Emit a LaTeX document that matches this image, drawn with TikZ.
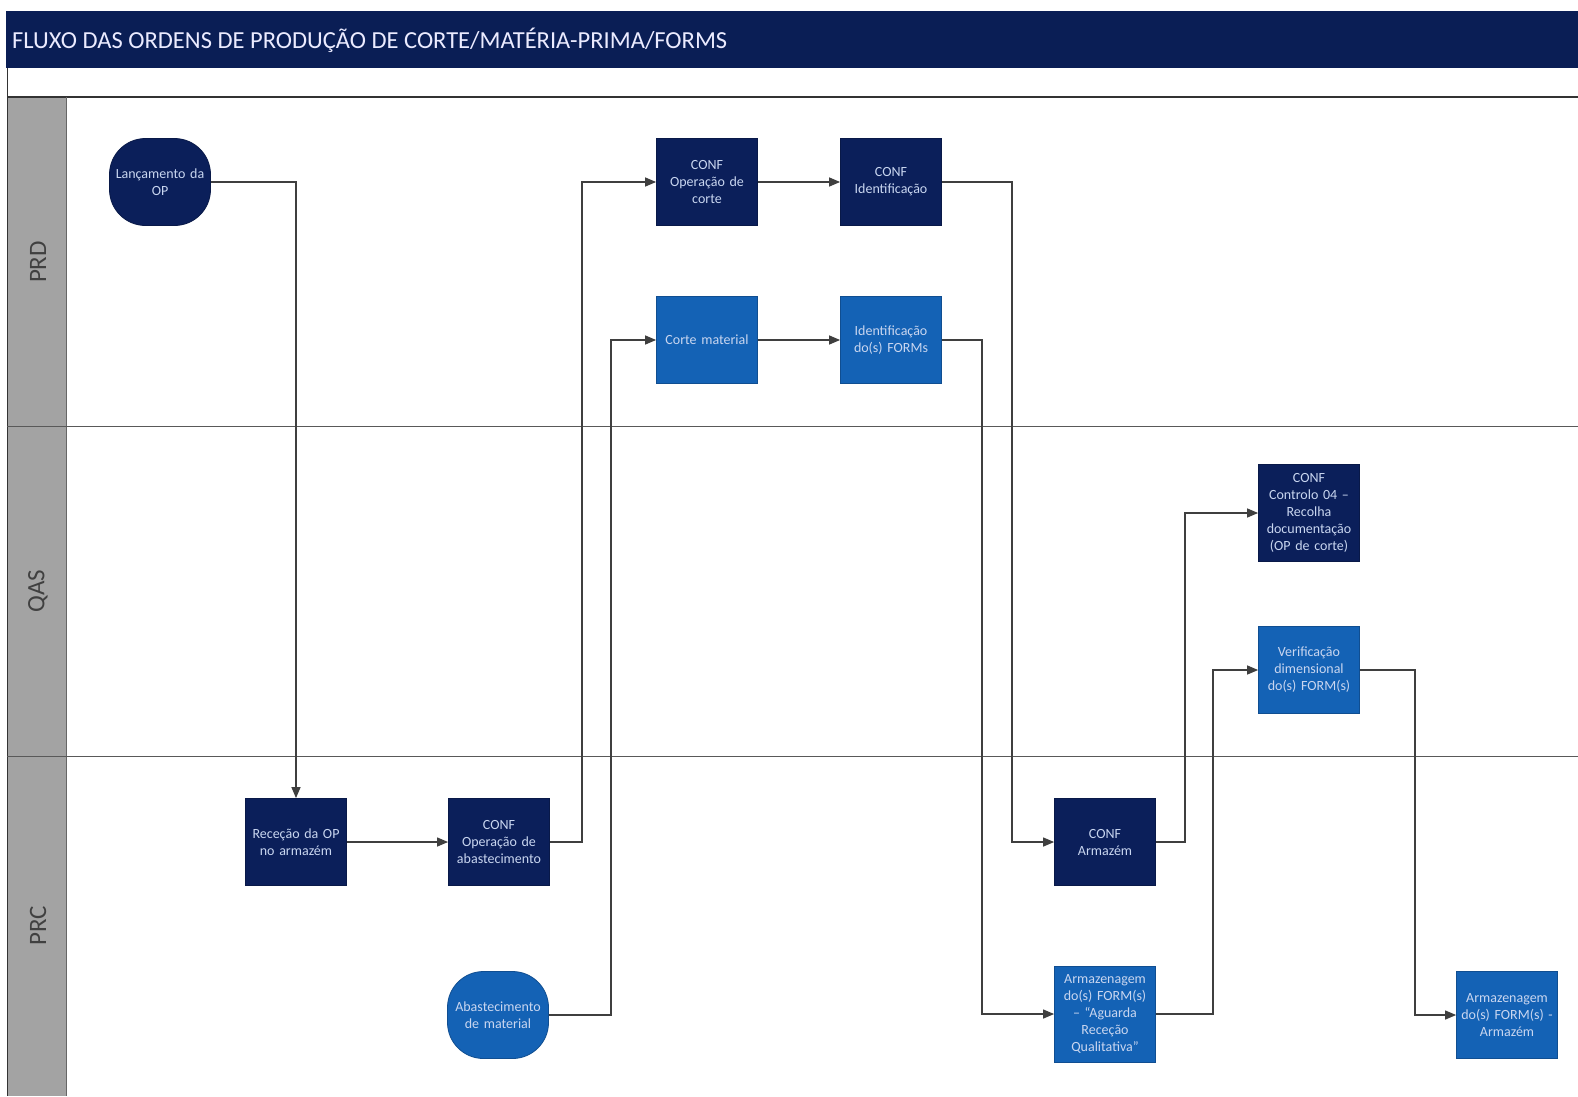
\documentclass[tikz,border=0pt]{standalone}
\usepackage{fontspec}
\setmainfont{Carlito}
\usetikzlibrary{arrows.meta}
\definecolor{navy}{HTML}{0B1F5A}
\definecolor{titlebg}{HTML}{0A1E55}
\definecolor{midblue}{HTML}{1462B5}
\definecolor{boxtxt}{HTML}{C9D6F0}
\definecolor{lanegrey}{HTML}{A3A3A3}
\definecolor{linegrey}{HTML}{3F3F3F}
\tikzset{
  darkbox/.style={rectangle, fill=navy, draw=navy!80!black, line width=0.8pt,
    minimum width=101pt, minimum height=87pt, text width=100pt, align=center,
    inner sep=0pt, text=boxtxt, font=\fontsize{14}{17}\selectfont},
  lightbox/.style={darkbox, fill=midblue, draw=midblue!80!black},
  darkterm/.style={darkbox, rounded corners=36pt},
  lightterm/.style={lightbox, rounded corners=36pt},
  conn/.style={draw=linegrey, line width=1.3pt, -{Triangle[length=11pt,width=9pt]}},
  lanelabel/.style={rotate=90, text=black!75, font=\fontsize{25}{28}\selectfont}
}
\begin{document}
\begin{tikzpicture}[x=1pt,y=-1pt]
\useasboundingbox (0,0) rectangle (1578,1096);
\fill[white] (0,0) rectangle (1578,1096);
% title bar
\fill[titlebg] (6,11) rectangle (1578,68);
\node[anchor=west, text=white!92!blue, font=\fontsize{24.5}{28}\selectfont, inner sep=0pt] (title) at (12,40) {FLUXO DAS ORDENS DE PRODUÇÃO DE CORTE/MATÉRIA-PRIMA/FORMS};
% white strip and lanes
\draw[black!80, line width=1pt] (7,68) -- (7,1096);
\draw[black!80, line width=1.2pt] (7,97) -- (1578,97);
\fill[lanegrey] (7.5,97.6) rectangle (66,1096);
\draw[black!60, line width=0.8pt] (66,97) -- (66,1096);
\draw[black!65, line width=1pt] (7,426) -- (1578,426);
\draw[black!65, line width=1pt] (7,756) -- (1578,756);
\node[lanelabel] (lprd) at (38,262) {PRD};
\node[lanelabel] (lqas) at (38,591) {QAS};
\node[lanelabel] (lprc) at (38,926) {PRC};
% nodes
\node[darkterm] (lanc) at (160,182) {Lançamento da\\OP};
\node[darkbox] (opcorte) at (707,182) {CONF\\Operação de\\corte};
\node[darkbox] (ident) at (891,182) {CONF\\Identificação};
\node[lightbox] (corte) at (707,340) {Corte material};
\node[lightbox] (idforms) at (891,340) {Identificação\\do(s) FORMs};
\node[darkbox, minimum height=97pt] (ctrl) at (1309,513) {CONF\\Controlo 04 –\\Recolha\\documentação\\(OP de corte)};
\node[lightbox] (verif) at (1309,670) {Verificação\\dimensional\\do(s) FORM(s)};
\node[darkbox] (rec) at (296,842) {Receção da OP\\no armazém};
\node[darkbox] (abast) at (499,842) {CONF\\Operação de\\abastecimento};
\node[darkbox] (conarm) at (1105,842) {CONF\\Armazém};
\node[lightterm] (abmat) at (498,1015) {Abastecimento\\de material};
\node[lightbox, minimum height=96pt] (armqr) at (1105,1014) {Armazenagem\\do(s) FORM(s)\\– “Aguarda\\Receção\\Qualitativa”};
\node[lightbox] (armarm) at (1507,1015) {Armazenagem\\do(s) FORM(s) -\\Armazém};
% connectors
\draw[conn] (lanc.east) -| (rec.north);
\draw[conn] (rec.east) -- (abast.west);
\draw[conn] (abast.east) -- ++(32,0) |- (opcorte.west);
\draw[conn] (opcorte.east) -- (ident.west);
\draw[conn] (ident.east) -- ++(70,0) |- (conarm.west);
\draw[conn] (abmat.east) -- ++(62,0) |- (corte.west);
\draw[conn] (corte.east) -- (idforms.west);
\draw[conn] (idforms.east) -- ++(40,0) |- (armqr.west);
\draw[conn] (conarm.east) -- ++(29,0) |- (ctrl.west);
\draw[conn] (armqr.east) -- ++(57,0) |- (verif.west);
\draw[conn] (verif.east) -- ++(55,0) |- (armarm.west);
\end{tikzpicture}
\end{document}
